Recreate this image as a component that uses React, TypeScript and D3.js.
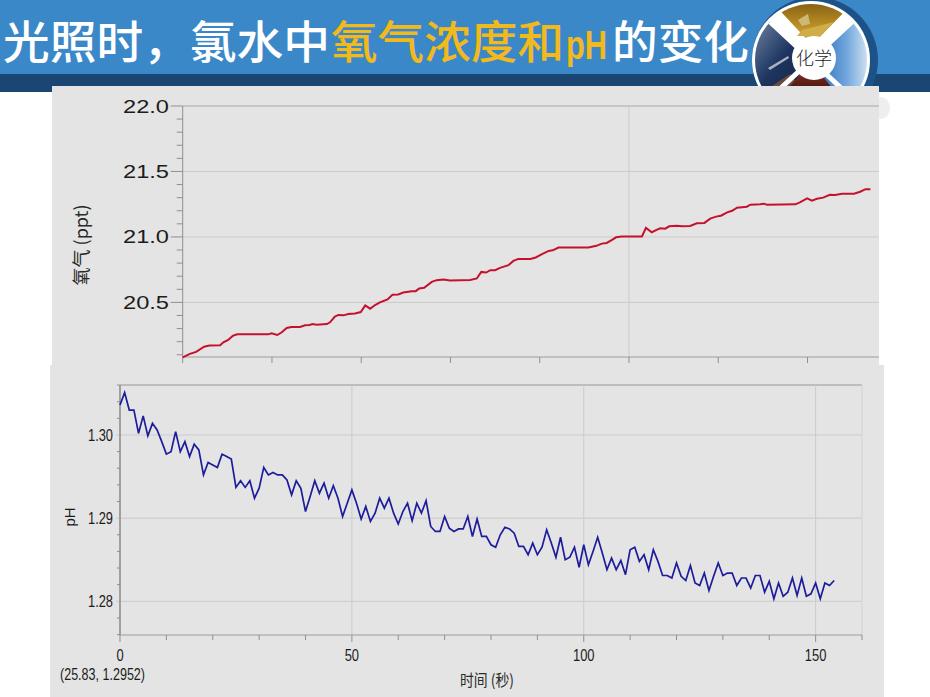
import React from "react";
import * as d3 from "d3";

const oxygenTimes = [0,1.6,3,4.8,6,8.4,9.1,10.2,11.2,12.2,15.1,19.2,19.9,21.2,22.2,23.3,24.4,26.3,27.4,28.4,29.1,30,32.3,33,34.1,34.9,36,37.1,38.6,39.9,40.9,42,43.1,44.2,45.9,47,48.3,49.4,51.3,52.2,53,54.1,55.8,56.9,58.4,59.9,64.4,65.9,66.9,68,68.9,70,71.1,73,74.1,75.2,77.9,79.1,80.5,82,82.9,84.2,86.8,90.9,92.7,93.9,95,96.2,97.1,98.4,102.9,103.8,105.1,106.3,107,108.1,109,110.7,111.9,113.7,115.2,116.9,118.2,119.5,120.6,122,123.1,124.2,126.4,127.2,129.4,130.2,130.9,137.3,138.4,139.9,141,142.1,143.5,145,146.2,147.7,150.4,151.8,153,154.1];
const oxygenValues = [20.08,20.107,20.122,20.162,20.17,20.173,20.195,20.213,20.244,20.256,20.256,20.256,20.264,20.251,20.272,20.305,20.312,20.312,20.325,20.327,20.335,20.33,20.335,20.348,20.391,20.404,20.401,20.411,20.416,20.426,20.477,20.452,20.48,20.5,20.523,20.558,20.561,20.576,20.586,20.586,20.607,20.612,20.657,20.67,20.675,20.667,20.672,20.683,20.733,20.728,20.746,20.746,20.764,20.784,20.817,20.832,20.832,20.843,20.868,20.893,20.898,20.919,20.919,20.919,20.932,20.949,20.954,20.977,20.997,21.003,21.003,21.069,21.036,21.056,21.066,21.063,21.081,21.086,21.081,21.084,21.104,21.107,21.14,21.155,21.162,21.188,21.2,21.223,21.231,21.246,21.249,21.254,21.246,21.249,21.266,21.294,21.277,21.292,21.3,21.322,21.32,21.33,21.33,21.345,21.365,21.365];
const phValues = [1.3036,1.3051,1.303,1.303,1.3002,1.3023,1.2999,1.3014,1.3006,1.2992,1.2977,1.298,1.3004,1.298,1.2992,1.2974,1.2989,1.2982,1.2952,1.2967,1.2964,1.2961,1.2977,1.2974,1.2971,1.2937,1.2945,1.2937,1.2945,1.2924,1.2936,1.2961,1.2952,1.2955,1.2952,1.2952,1.2946,1.2928,1.2945,1.2936,1.2908,1.2926,1.2945,1.293,1.2942,1.2924,1.2939,1.2924,1.2902,1.2918,1.2934,1.2918,1.2899,1.2914,1.2896,1.2906,1.2924,1.2912,1.2924,1.2906,1.2893,1.2908,1.2918,1.2897,1.2918,1.2906,1.2921,1.289,1.2884,1.2884,1.2902,1.2888,1.2884,1.2887,1.2887,1.2902,1.2878,1.2899,1.2878,1.2878,1.2868,1.2865,1.288,1.2889,1.2887,1.2882,1.2866,1.2866,1.2856,1.287,1.2856,1.2865,1.2886,1.287,1.2853,1.2877,1.285,1.2853,1.2865,1.2841,1.2868,1.2844,1.286,1.2877,1.2858,1.2838,1.2852,1.2838,1.2849,1.2832,1.2862,1.2865,1.2848,1.2856,1.2838,1.2862,1.2848,1.2831,1.2831,1.2828,1.2846,1.283,1.2825,1.2843,1.2822,1.2819,1.2834,1.2813,1.283,1.2846,1.2831,1.2834,1.2834,1.2819,1.2828,1.2828,1.2816,1.2831,1.2831,1.2811,1.2824,1.2803,1.2822,1.2806,1.2811,1.2828,1.2807,1.2828,1.2806,1.2809,1.2822,1.2803,1.2822,1.2819,1.2825];
const oxygenLabels = ["22.0","21.5","21.0","20.5"];
const oxygenMinorTicks = [21.9,21.8,21.7,21.6,21.4,21.3,21.2,21.1,20.9,20.8,20.7,20.6,20.4,20.3,20.2,20.1];
const oxygenTimeTicks = [0,20,40,60,80,100,120,140];
const phLabels = ["1.30","1.29","1.28"];
const phMinorTicks = [1.304,1.302,1.298,1.296,1.294,1.292,1.288,1.286,1.284,1.282,1.278,1.276];
const phTimeTicks = [0,10,20,30,40,50,60,70,80,90,100,110,120,130,140,150,160];
const phTimeLabels = ["0","50","100","150"];
const titleParts = [
  { text: "光照时，氯水中", fill: "#ffffff", x: 3, w: 327 },
  { text: "氧气浓度和", fill: "#f2b91c", x: 331, w: 233 },
  { text: "pH", fill: "#f2b91c", x: 566, w: 41 },
  { text: "的变化", fill: "#ffffff", x: 612, w: 137 },
];

const sans = "'Liberation Sans', Arial, sans-serif";
const cjk = "'Noto Sans CJK SC', sans-serif";

const App = () => {
  const xO = d3.scaleLinear().domain([0, 100]).range([182.7, 629]);
  const yO = d3.scaleLinear().domain([20.5, 22]).range([302.4, 106]);
  const xP = d3.scaleLinear().domain([0, 160]).range([120, 862]);
  const yP = d3.scaleLinear().domain([1.28, 1.3]).range([601.3, 435]);
  const lineO = d3.line<number>().x((_, i) => xO(oxygenTimes[i])).y(d => yO(d));
  const lineP = d3.line<number>().x((_, i) => xP(i)).y(d => yP(d));
  const grid = "#cbcbcb";
  const axis = "#8f8f8f";
  return (
    <svg width={930} height={697} style={{ position: "absolute", left: 0, top: 0, display: "block" }}>
      <defs>
        <linearGradient id="gold" x1="0" y1="0" x2="0" y2="1">
          <stop offset="0" stopColor="#7d5c12" />
          <stop offset="0.55" stopColor="#b98d22" />
          <stop offset="1" stopColor="#d9b95e" />
        </linearGradient>
        <linearGradient id="blueQ" x1="0" y1="0" x2="1" y2="0">
          <stop offset="0" stopColor="#1d5cb0" />
          <stop offset="0.55" stopColor="#6fa6dc" />
          <stop offset="1" stopColor="#f0f4f8" />
        </linearGradient>
        <linearGradient id="darkQ" x1="0" y1="0" x2="1" y2="1">
          <stop offset="0" stopColor="#7f93ad" />
          <stop offset="0.5" stopColor="#1d3560" />
          <stop offset="1" stopColor="#141f3c" />
        </linearGradient>
        <linearGradient id="redQ" x1="0" y1="0" x2="0" y2="1">
          <stop offset="0" stopColor="#a83a25" />
          <stop offset="1" stopColor="#1e0a08" />
        </linearGradient>
        <clipPath id="ring"><circle cx={811} cy={60} r={56} /></clipPath>
      </defs>
      <rect x={0} y={0} width={930} height={697} fill="#ffffff" />
      <rect x={0} y={0} width={930} height={75} fill="#3b88c8" />
      <rect x={0} y={74} width={930} height={18} fill="#1b4673" />

      <circle cx={815} cy={60} r={63} fill="#1d5288" />
      <circle cx={811} cy={60} r={59} fill="#ffffff" />
      <g clipPath="url(#ring)">
        <path d="M812,45 L770,0 L856,0 Z" fill="url(#gold)" />
        <path d="M798,20 L808,14 L810,24 L802,26 Z" fill="#cdb878" />
        <path d="M797,36 L802,30 L826,24 L834,22 L820,36 Z" fill="#cfae4a" />
        <path d="M811,60 L768,20 L745,20 L745,105 L778,105 Z" fill="url(#darkQ)" />
        <path d="M768,68 L788,56 L789,58 L770,70 Z" fill="#aab2be" />
        <path d="M772,86 L790,74 L798,84 L780,96 Z" fill="#6b4a3c" />
        <path d="M811,60 L852,20 L875,20 L875,105 L842,105 Z" fill="url(#blueQ)" />
        <path d="M811,62 L778,100 L842,100 Z" fill="url(#redQ)" />
        <path d="M752,5 L870,115 M870,5 L752,115" stroke="#ffffff" strokeWidth={5} />
      </g>
      <circle cx={814} cy={58} r={22} fill="#ffffff" />
      <text x={814} y={65} textAnchor="middle" fontFamily="'Noto Sans CJK SC', serif" fontWeight={300} fontSize={18} fill="#222222">化学</text>

      {titleParts.map(p => (
        <text key={p.text} transform={`translate(${p.x},59) scale(1,1.03)`} fill={p.fill} fontFamily={p.text === "pH" ? sans : cjk} fontWeight={p.text === "pH" ? 700 : 500} fontSize={p.text === "pH" ? 40 : 44}
          textLength={p.w} lengthAdjust="spacingAndGlyphs">{p.text}</text>
      ))}

      <ellipse cx={880} cy={108} rx={10} ry={11} fill="#eeeeee" />
      <rect x={52} y={86} width={827} height={280} fill="#e4e4e4" />
      <rect x={50} y={365} width={834} height={332} fill="#e4e4e4" />

      {oxygenLabels.map(l => (
        <g key={l}>
          <line x1={xO(0)} x2={879} y1={yO(+l)} y2={yO(+l)} stroke={l === "22.0" ? "#a8a8a8" : grid} strokeWidth={1} />
          <line x1={xO(0) - 12} x2={xO(0)} y1={yO(+l)} y2={yO(+l)} stroke={axis} />
          <text x={169} y={yO(+l) + 6.5} textAnchor="end" fontFamily={sans} fontSize={18} fill="#1c1c1c" textLength={46} lengthAdjust="spacingAndGlyphs">{l}</text>
        </g>
      ))}
      {oxygenMinorTicks.map(t => (
        <line key={t} x1={xO(0) - 6} x2={xO(0)} y1={yO(t)} y2={yO(t)} stroke={axis} />
      ))}
      <line x1={xO(100)} x2={xO(100)} y1={106} y2={357} stroke={grid} />
      <line x1={xO(0)} x2={xO(0)} y1={106} y2={357} stroke={axis} />
      <line x1={xO(0)} x2={879} y1={357} y2={357} stroke="#9c9c9c" />
      {oxygenTimeTicks.map(t => (
        <line key={t} x1={xO(t)} x2={xO(t)} y1={357} y2={363} stroke={axis} />
      ))}
      <text transform="translate(88,245) rotate(-90)" textAnchor="middle" fontFamily={cjk} fontSize={18} fill="#2a2a2a">氧气 (ppt)</text>
      <path d={lineO(oxygenValues) ?? ""} fill="none" stroke="#c4122e" strokeWidth={2} />

      <line x1={117} x2={862} y1={385} y2={385} stroke="#b0b0b0" strokeWidth={1.6} />
      {phLabels.map(l => (
        <g key={l}>
          <line x1={116} x2={862} y1={yP(+l)} y2={yP(+l)} stroke={grid} />
          <text x={113} y={yP(+l) + 6} textAnchor="end" fontFamily={sans} fontSize={16.5} fill="#1c1c1c" textLength={25} lengthAdjust="spacingAndGlyphs">{l}</text>
        </g>
      ))}
      {phMinorTicks.map(t => (
        <line key={t} x1={117} x2={120} y1={yP(t)} y2={yP(t)} stroke={axis} />
      ))}
      {phTimeLabels.slice(1).map(l => (
        <line key={l} x1={xP(+l)} x2={xP(+l)} y1={385} y2={635} stroke={grid} />
      ))}
      <line x1={xP(160)} x2={xP(160)} y1={385} y2={635} stroke="#d2d2d2" />
      <line x1={xP(0)} x2={xP(0)} y1={385} y2={635} stroke="#8a8a8a" strokeWidth={1.5} />
      <line x1={119} x2={862} y1={635} y2={635} stroke="#9c9c9c" strokeWidth={1.2} />
      {phTimeTicks.map(t => (
        <line key={t} x1={xP(t)} x2={xP(t)} y1={635} y2={t % 50 === 0 ? 642 : 640} stroke={axis} />
      ))}
      {phTimeLabels.map(l => (
        <text key={l} x={xP(+l)} y={661} textAnchor="middle" fontFamily={sans} fontSize={16.5} fill="#1c1c1c" textLength={l.length * 7.2} lengthAdjust="spacingAndGlyphs">{l}</text>
      ))}
      <text transform="translate(75,517) rotate(-90)" textAnchor="middle" fontFamily={sans} fontSize={15} fill="#1c1c1c">pH</text>
      <text x={60} y={680} fontFamily={sans} fontSize={16.5} fill="#1c1c1c" textLength={85} lengthAdjust="spacingAndGlyphs">(25.83, 1.2952)</text>
      <text x={487} y={686} textAnchor="middle" fontFamily={cjk} fontSize={16} fill="#2a2a2a" textLength={54} lengthAdjust="spacingAndGlyphs">时间 (秒)</text>
      <path d={lineP(phValues) ?? ""} fill="none" stroke="#1c1c9c" strokeWidth={1.7} />
    </svg>
  );
};

export default App;
